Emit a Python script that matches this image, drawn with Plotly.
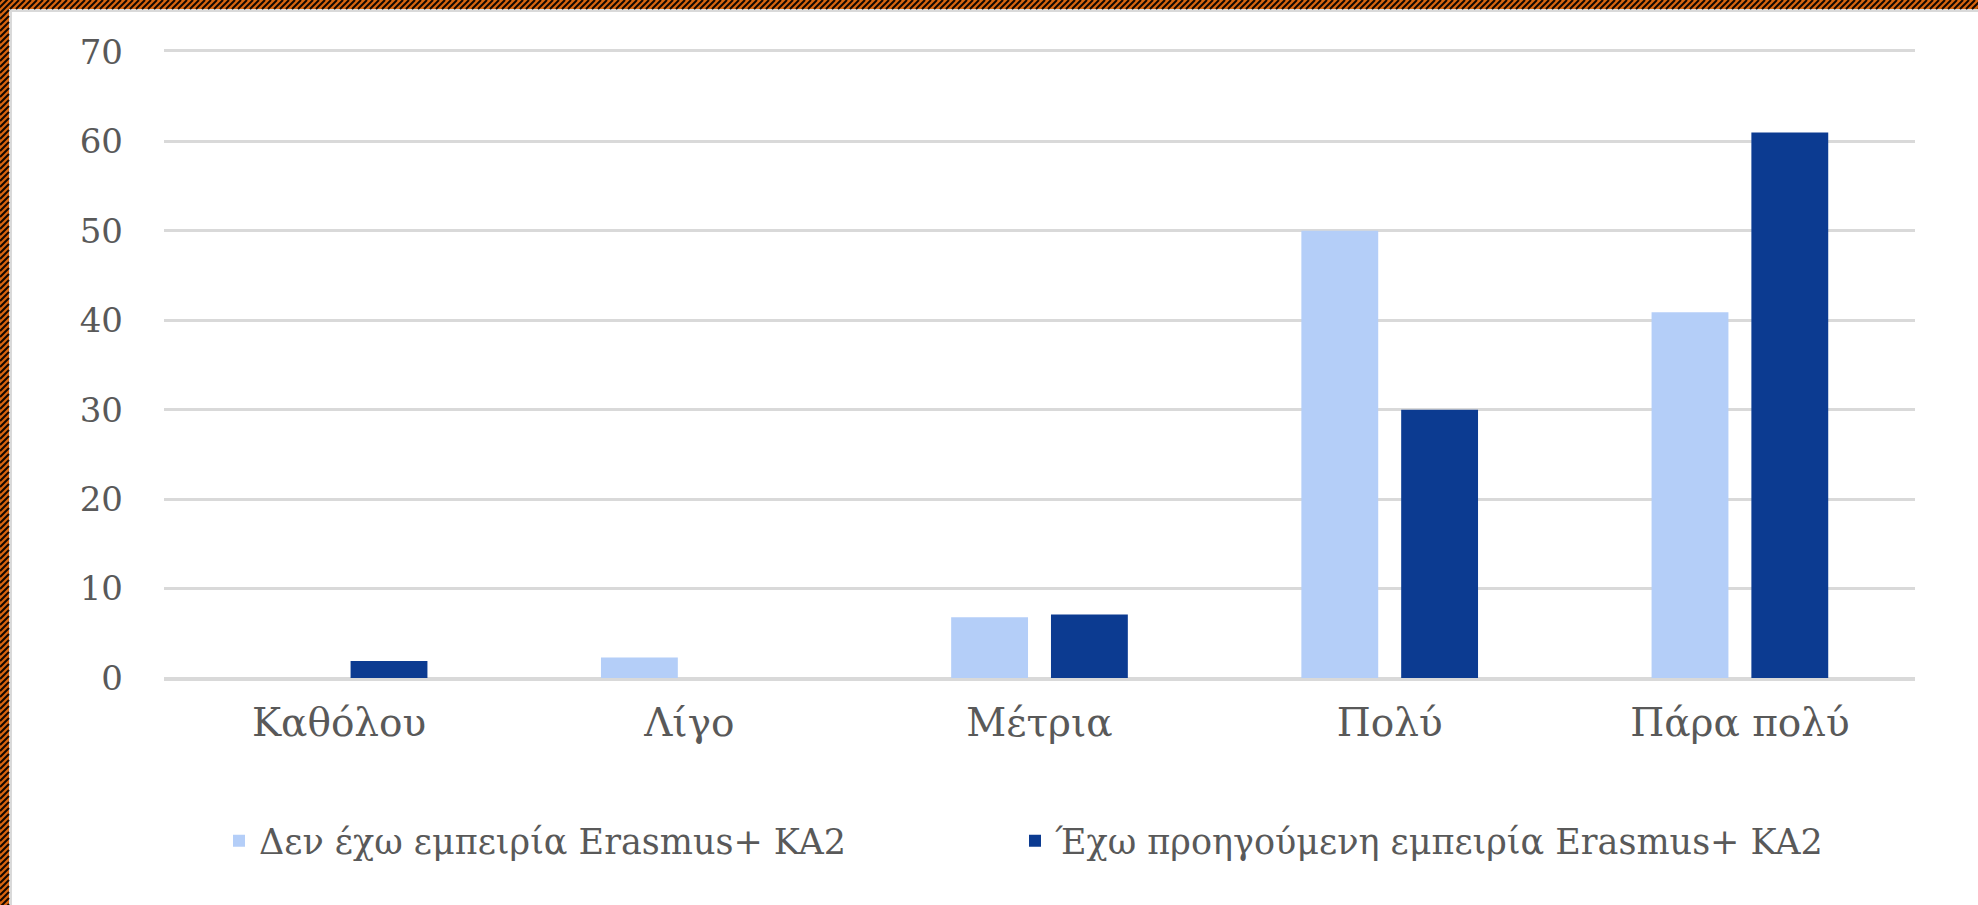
import plotly.graph_objects as go

categories = ["Καθόλου", "Λίγο", "Μέτρια", "Πολύ", "Πάρα πολύ"]
series_no_exp_name = "Δεν έχω εμπειρία Erasmus+ KA2"
series_no_exp = [0, 2.3, 6.8, 50.0, 40.9]
series_exp_name = "Έχω προηγούμενη εμπειρία Erasmus+ KA2"
series_exp = [1.9, 0, 7.1, 30.0, 61.0]
y_ticks = [0, 10, 20, 30, 40, 50, 60, 70]

W, H = 1978, 905
L, R, T, B = 164, 63, 52, 227
PW, PH = W - L - R, H - T - B

def px(x):
    return (x - L) / PW

def py(y):
    return (H - B - y) / PH

TEXT = "#595959"
FONT = "DejaVu Serif"

fig = go.Figure()
fig.add_trace(go.Bar(x=categories, y=series_no_exp, name=series_no_exp_name,
                     marker=dict(color="#b4cef8", line=dict(width=0)), legend="legend"))
fig.add_trace(go.Bar(x=categories, y=series_exp, name=series_exp_name,
                     marker=dict(color="#0c3b91", line=dict(width=0)), legend="legend2"))

# decorative frame (top and left hatched strips)
shapes = []
ORANGE = "#d8650f"
shapes.append(dict(type="rect", xref="paper", yref="paper", layer="above",
                   x0=px(0), x1=px(W), y0=py(9), y1=py(0), fillcolor=ORANGE, line=dict(width=0)))
shapes.append(dict(type="rect", xref="paper", yref="paper", layer="above",
                   x0=px(0), x1=px(9), y0=py(H), y1=py(0), fillcolor=ORANGE, line=dict(width=0)))
shapes.append(dict(type="rect", xref="paper", yref="paper", layer="above",
                   x0=px(9), x1=px(W), y0=py(12), y1=py(9), fillcolor="#d9d9d9", line=dict(width=0)))
shapes.append(dict(type="rect", xref="paper", yref="paper", layer="above",
                   x0=px(9), x1=px(12), y0=py(H), y1=py(9), fillcolor="#d9d9d9", line=dict(width=0)))
segs = []
step = 6
for k in range(-20, W + 20, step):
    segs.append(f"M{px(k):.5f},{py(9):.5f}L{px(k + 9):.5f},{py(0):.5f}")
for k in range(-20, H + 20, step):
    segs.append(f"M{px(0):.5f},{py(k + 9):.5f}L{px(9):.5f},{py(k):.5f}")
shapes.append(dict(type="path", xref="paper", yref="paper", layer="above",
                   path="".join(segs), line=dict(color="#140800", width=2)))

legend_common = dict(orientation="h", xanchor="left", yanchor="middle",
                     font=dict(family=FONT, size=35, color=TEXT),
                     itemsizing="constant", bgcolor="rgba(0,0,0,0)")

fig.update_layout(
    width=W, height=H,
    margin=dict(l=L, r=R, t=T, b=B, pad=0),
    paper_bgcolor="white", plot_bgcolor="white",
    barmode="group", bargap=0.43, bargroupgap=0.23,
    font=dict(family=FONT, color=TEXT),
    showlegend=True,
    legend=dict(x=px(219), y=py(841), **legend_common),
    legend2=dict(x=px(1015), y=py(841), **legend_common),
    shapes=shapes,
)
fig.update_xaxes(showgrid=False, showline=True, mirror=True, linecolor="#d9d9d9", linewidth=3,
                 zeroline=False, ticks="",
                 tickfont=dict(family=FONT, size=39, color=TEXT), ticklabelstandoff=8)
fig.update_yaxes(range=[0, 70], tickvals=y_ticks, ticktext=[str(v) for v in y_ticks],
                 showgrid=True, gridcolor="#d9d9d9", gridwidth=3,
                 zeroline=True, zerolinecolor="#d9d9d9", zerolinewidth=3,
                 showline=False, ticks="",
                 tickfont=dict(family=FONT, size=34, color=TEXT), ticklabelstandoff=40)

fig.write_html("out.html", config={"displayModeBar": False},
               post_script="document.body.style.margin='0';document.body.style.overflow='hidden';")
